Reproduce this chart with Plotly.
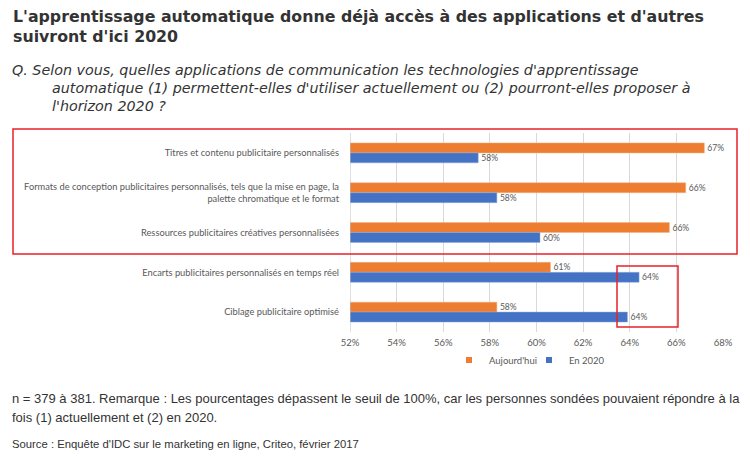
import plotly.graph_objects as go

categories = [
    "Titres et contenu publicitaire personnalisés",
    "Formats de conception publicitaires personnalisés, tels que la mise en page, la<br>palette chromatique et le format",
    "Ressources publicitaires créatives personnalisées",
    "Encarts publicitaires personnalisés en temps réel",
    "Ciblage publicitaire optimisé",
]
aujourdhui = [67.2, 66.4, 65.7, 60.6, 58.3]
aujourdhui_labels = ["67%", "66%", "66%", "61%", "58%"]
en2020 = [57.5, 58.3, 60.15, 64.4, 63.9]
en2020_labels = ["58%", "58%", "60%", "64%", "64%"]
tick_values = [52, 54, 56, 58, 60, 62, 64, 66, 68]
tick_labels = ["52%", "54%", "56%", "58%", "60%", "62%", "64%", "66%", "68%"]
series_names = ["Aujourd'hui", "En 2020"]
series_colors = ["#ED7D31", "#4472C4"]

# page has an 8px body margin: work in screen pixels, convert to figure pixels
OFF = 8
W, H = 750 - OFF, 458 - OFF
L, R, T, B = 350 - OFF, 723 - OFF, 133 - OFF, 332 - OFF


def px(x):
    return (x - OFF - L) / (R - L)


def py(y):
    return (B - (y - OFF)) / (B - T)


GRAY = "#595959"
DARK = "#333333"
CAT_FONT = "Lato"

fig = go.Figure()
for vals, labels, name, color, edge in [
    (aujourdhui, aujourdhui_labels, series_names[0], series_colors[0], "#f4b183"),
    (en2020, en2020_labels, series_names[1], series_colors[1], "#8faadc"),
]:
    fig.add_trace(go.Bar(
        y=categories, x=vals, name=name, orientation="h", showlegend=False,
        marker=dict(color=color, line=dict(color=edge, width=0.5)),
        text=labels, textposition="outside", cliponaxis=False,
        textfont=dict(size=9.5, color=GRAY, family=CAT_FONT),
    ))

# legend entries with small square swatches, one legend box each
for name, color, leg in zip(series_names, series_colors, ["legend", "legend2"]):
    fig.add_trace(go.Scatter(
        x=[None], y=[None], mode="markers", name=name, legend=leg,
        marker=dict(symbol="square", size=6, color=color),
    ))

legend_common = dict(orientation="h", yanchor="middle", xanchor="left",
                     font=dict(size=9.5, color=GRAY, family=CAT_FONT),
                     bgcolor="rgba(0,0,0,0)", itemwidth=30)

fig.update_layout(
    width=W, height=H,
    margin=dict(l=L, r=W - R, t=T, b=H - B, pad=0),
    paper_bgcolor="white", plot_bgcolor="white",
    barmode="group", bargap=0.5, bargroupgap=0,
    font=dict(family=CAT_FONT, size=9, color=GRAY),
    showlegend=True,
    legend=dict(x=px(449), y=py(360), **legend_common),
    legend2=dict(x=px(529), y=py(360), **legend_common),
    xaxis=dict(range=[52, 68], tickvals=tick_values, ticktext=tick_labels,
               showgrid=True, gridcolor="#d9d9d9", gridwidth=1,
               zeroline=False, showline=False, ticks="",
               tickfont=dict(size=9.5, color=GRAY, family=CAT_FONT), ticklabelstandoff=3),
    yaxis=dict(autorange="reversed", showgrid=False, ticks="",
               showline=False,
               tickfont=dict(size=9.3, color=GRAY, family=CAT_FONT), ticklabelstandoff=10),
)

# y axis line at 52%
fig.add_shape(type="line", xref="x", yref="paper", x0=52, x1=52, y0=0, y1=1,
              line=dict(color="#bfbfbf", width=1))

# red highlight boxes
fig.add_shape(type="rect", xref="paper", yref="paper",
              x0=px(13), x1=px(737), y0=py(129), y1=py(254),
              line=dict(color="#e8202a", width=1.5))
fig.add_shape(type="rect", xref="paper", yref="paper",
              x0=px(617), x1=px(678), y0=py(266), y1=py(327),
              line=dict(color="#e8202a", width=1.5))


def text_line(txt, x, y, family, size, color=DARK):
    fig.add_annotation(text=txt, xref="paper", yref="paper",
                       x=px(x), y=py(y), xanchor="left", yanchor="middle", align="left",
                       showarrow=False, font=dict(family=family, size=size, color=color))


title1 = "L'apprentissage automatique donne déjà accès à des applications et d'autres"
title2 = "suivront d'ici 2020"
text_line("<b>" + title1 + "</b>", 11, 16, "DejaVu Sans", 15.8)
text_line("<b>" + title2 + "</b>", 11, 36, "DejaVu Sans", 15.8)

sub1 = "Q. Selon vous, quelles applications de communication les technologies d'apprentissage"
sub2 = "automatique (1) permettent-elles d'utiliser actuellement ou (2) pourront-elles proposer à"
sub3 = "l'horizon 2020 ?"
text_line("<i>" + sub1 + "</i>", 10, 70, "DejaVu Sans", 14.3)
text_line("<i>" + sub2 + "</i>", 50, 88, "DejaVu Sans", 14.3)
text_line("<i>" + sub3 + "</i>", 50, 106, "DejaVu Sans", 14.3)

foot1 = "n = 379 à 381. Remarque : Les pourcentages dépassent le seuil de 100%, car les personnes sondées pouvaient répondre à la"
foot2 = "fois (1) actuellement et (2) en 2020."
source = "Source : Enquête d'IDC sur le marketing en ligne, Criteo, février 2017"
text_line(foot1, 10, 398, "Liberation Sans", 13)
text_line(foot2, 10, 417, "Liberation Sans", 13)
text_line(source, 10, 444, "Liberation Sans", 11.3)

fig.write_html("out.html")
